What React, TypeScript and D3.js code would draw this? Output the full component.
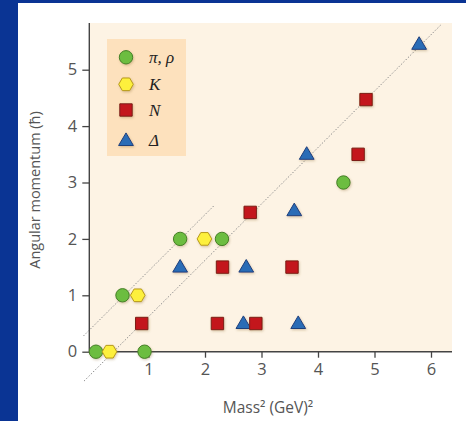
import React, { useEffect, useRef } from 'react';
import * as d3 from 'd3';

// 数据 (x: Mass², y: angular momentum)
const piRhoX = [0.07, 0.93, 0.54, 1.56, 2.3, 4.45];
const piRhoY = [0, 0, 1, 2, 2, 3];
const kaonX = [0.31, 0.81, 1.99];
const kaonY = [0, 1, 2];
const nucleonX = [0.88, 2.22, 2.9, 2.31, 3.54, 2.8, 4.71, 4.85];
const nucleonY = [0.5, 0.5, 0.5, 1.5, 1.5, 2.47, 3.5, 4.47];
const deltaX = [1.56, 2.73, 2.68, 3.65, 3.58, 3.8, 5.79];
const deltaY = [1.5, 1.5, 0.5, 0.5, 2.5, 3.5, 5.45];
// Regge 轨迹: y = x + b, x 范围
const trajIntercept = [0.43, -0.38];
const trajFrom = [-0.15, -0.14];
const trajTo = [2.17, 6.17];
const xTicks = [1, 2, 3, 4, 5, 6];
const yTicks = [0, 1, 2, 3, 4, 5];
const legendLabels = ['π, ρ', 'K', 'N', 'Δ'];

const W = 466;
const H = 421;
const textColor = '#555';
const axisColor = '#444';

const style = {
  circle: { fill: '#6cbd40', stroke: '#437f27' },
  hex: { fill: '#fdf03c', stroke: '#b89a1c' },
  square: { fill: '#c3171d', stroke: '#7c1c14' },
  tri: { fill: '#2b6cb6', stroke: '#1c3f7c' },
};

function markerPath(type: string) {
  if (type === 'circle') return d3.symbol(d3.symbolCircle, Math.PI * 6.7 * 6.7)();
  if (type === 'square') return 'M-6.2,-6.2 H6.2 V6.2 H-6.2 Z';
  if (type === 'tri') return 'M0,-7.6 L7.4,5 L-7.4,5 Z';
  // 六边形
  const r = 7.3;
  const pts = d3.range(6).map(i => {
    const a = (Math.PI / 3) * i;
    return [r * Math.cos(a), r * Math.sin(a)];
  });
  return 'M' + pts.map(p => p.join(',')).join('L') + 'Z';
}

export default function App() {
  const ref = useRef<SVGSVGElement>(null);

  useEffect(() => {
    document.body.style.margin = '0';
    const svg = d3.select(ref.current);
    svg.selectAll('*').remove();

    const x = d3.scaleLinear().domain([0, 6]).range([92, 431]);
    const y = d3.scaleLinear().domain([0, 5]).range([351.7, 69.7]);
    const left = 89.3;
    const bottom = 351.7;

    // 背景
    svg.append('rect').attr('width', W).attr('height', H).attr('fill', '#0a3494');
    svg.append('rect').attr('x', 18).attr('y', 3).attr('width', W - 18).attr('height', H - 3).attr('fill', '#fff');
    svg.append('rect').attr('x', left).attr('y', 23).attr('width', 452 - left).attr('height', bottom - 23).attr('fill', '#fdf3e4');

    const defs = svg.append('defs');
    const f = defs.append('filter').attr('id', 'shadow').attr('x', '-50%').attr('y', '-50%').attr('width', '200%').attr('height', '200%');
    f.append('feDropShadow').attr('dx', 0.8).attr('dy', 1.2).attr('stdDeviation', 0.9)
      .attr('flood-color', '#8a6a30').attr('flood-opacity', 0.35);

    // 虚线
    trajIntercept.forEach((b, i) => {
      svg.append('line')
        .attr('x1', x(trajFrom[i])).attr('y1', y(trajFrom[i] + b))
        .attr('x2', x(trajTo[i])).attr('y2', y(trajTo[i] + b))
        .attr('stroke', '#8a8a8a').attr('stroke-width', 1)
        .attr('stroke-dasharray', '1.4,1.8');
    });

    // 图例
    svg.append('rect').attr('x', 107).attr('y', 39).attr('width', 79).attr('height', 117).attr('fill', '#fde1bd');
    const legendTypes = ['circle', 'hex', 'square', 'tri'];
    const legendY = [57.3, 84.3, 110, 140.5];
    legendTypes.forEach((t, i) => {
      svg.append('path').attr('d', markerPath(t))
        .attr('transform', `translate(126 ${legendY[i]})`)
        .attr('fill', style[t].fill).attr('stroke', style[t].stroke).attr('stroke-width', 1)
        .attr('filter', 'url(#shadow)');
      svg.append('text').attr('x', 149).attr('y', legendY[i] + 5.5)
        .attr('font-family', '"Liberation Serif", "DejaVu Serif", serif')
        .attr('font-style', 'italic').attr('font-size', 17).attr('fill', '#222')
        .text(legendLabels[i]);
    });

    // 坐标轴
    const xAxis = d3.axisBottom(x).tickValues(xTicks).tickSize(6).tickPadding(6).tickFormat(d3.format('d'));
    const gx = svg.append('g').attr('transform', `translate(0 ${bottom})`).call(xAxis);
    gx.select('.domain').remove();
    gx.selectAll('line').attr('stroke', axisColor).attr('stroke-width', 1.3);
    gx.selectAll('text').attr('font-family', '"Open Sans", "Noto Sans", sans-serif')
      .attr('font-size', 16.5).attr('fill', textColor);

    const yAxis = d3.axisLeft(y).tickValues(yTicks).tickSize(7).tickPadding(5).tickFormat(d3.format('d'));
    const gy = svg.append('g').attr('transform', `translate(${left} 0)`).call(yAxis);
    gy.select('.domain').remove();
    gy.selectAll('line').attr('stroke', axisColor).attr('stroke-width', 1.3);
    gy.selectAll('text').attr('font-family', '"Open Sans", "Noto Sans", sans-serif')
      .attr('font-size', 16.5).attr('fill', textColor);

    svg.append('line').attr('x1', left).attr('x2', 452).attr('y1', bottom).attr('y2', bottom)
      .attr('stroke', axisColor).attr('stroke-width', 1.4);
    svg.append('line').attr('x1', left).attr('x2', left).attr('y1', 23).attr('y2', bottom)
      .attr('stroke', axisColor).attr('stroke-width', 1.4);

    // 点
    const series = [
      { type: 'circle', xs: piRhoX, ys: piRhoY },
      { type: 'hex', xs: kaonX, ys: kaonY },
      { type: 'tri', xs: deltaX, ys: deltaY },
      { type: 'square', xs: nucleonX, ys: nucleonY },
    ];
    series.forEach(s => {
      svg.append('g').selectAll('path').data(s.xs).enter()
        .append('path')
        .attr('d', markerPath(s.type))
        .attr('transform', (d, i) => `translate(${x(d)} ${y(s.ys[i])})`)
        .attr('fill', style[s.type].fill)
        .attr('stroke', style[s.type].stroke)
        .attr('stroke-width', 1)
        .attr('filter', 'url(#shadow)');
    });

    // 轴标题
    svg.append('text')
      .attr('transform', `translate(40 190) rotate(-90)`)
      .attr('text-anchor', 'middle')
      .attr('font-family', '"Open Sans", "Noto Sans", sans-serif')
      .attr('font-size', 14.5).attr('fill', textColor)
      .text('Angular momentum (ħ)');
    svg.append('text')
      .attr('x', 268).attr('y', 413)
      .attr('text-anchor', 'middle')
      .attr('font-family', '"Open Sans", "Noto Sans", sans-serif')
      .attr('font-size', 15.5).attr('fill', textColor)
      .text('Mass² (GeV)²');
  }, []);

  return <svg ref={ref} width={W} height={H} style={{ display: 'block' }} />;
}
